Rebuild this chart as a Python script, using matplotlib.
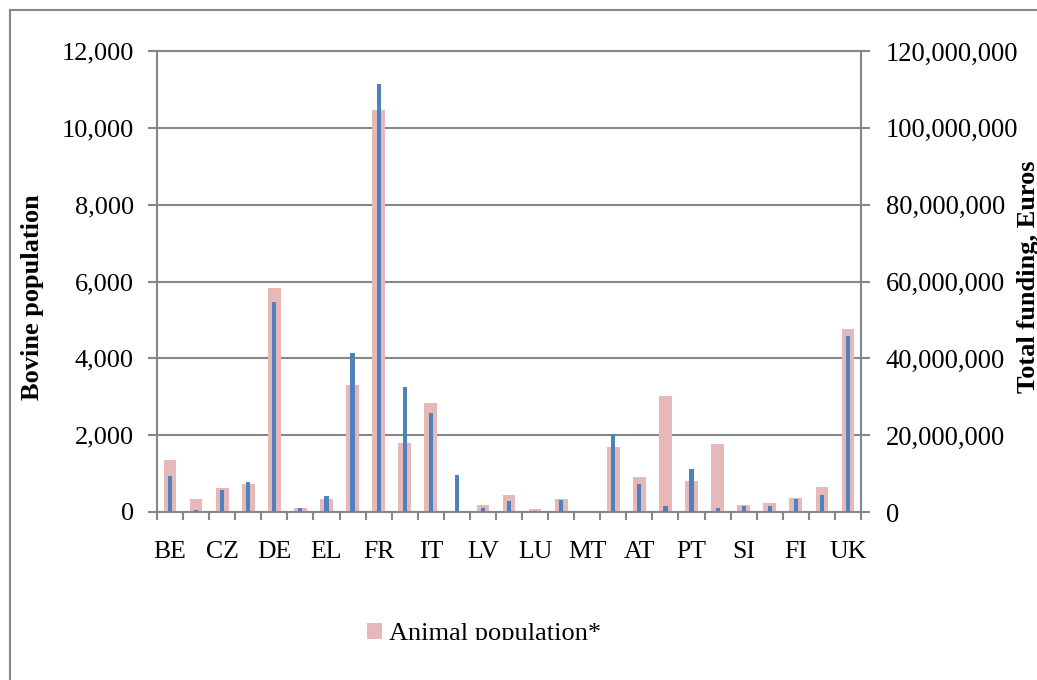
"""
Bovine population vs. total funding per member state.

Pink bars  : animal population (left axis, thousands)
Blue bars  : total funding in euros (right axis)
"""

import matplotlib.pyplot as plt
from matplotlib.patches import Rectangle
from matplotlib.ticker import FuncFormatter, MultipleLocator
from matplotlib.transforms import Bbox, TransformedBbox
import numpy as np

# ---------------------------------------------------------------------------
# Data
# ---------------------------------------------------------------------------
countries = [
    "BE", "BG", "CZ", "DK", "DE", "EE", "EL", "ES", "FR", "IE", "IT", "CY",
    "LV", "LT", "LU", "HU", "MT", "NL", "AT", "PL", "PT", "RO", "SI", "SK",
    "FI", "SE", "UK",
]
animal_population = [
    1350, 350, 630, 730, 5820, 100, 340, 3300, 10470, 1800, 2840, 0,
    190, 435, 70, 350, 0, 1700, 920, 3020, 810, 1770, 185, 235,
    355, 650, 4760,
]
total_funding = [
    9.3e6, 0.4e6, 5.7e6, 7.8e6, 54.7e6, 1.0e6, 4.2e6, 41.5e6, 111.5e6,
    32.5e6, 25.8e6, 9.7e6, 1.0e6, 2.8e6, 0.3e6, 3.1e6, 0.0, 20.3e6,
    7.3e6, 1.6e6, 11.1e6, 1.0e6, 1.5e6, 1.5e6, 3.4e6, 4.5e6, 45.8e6,
]
# only every other country code is printed under the axis
tick_labels = [c if i % 2 == 0 else "" for i, c in enumerate(countries)]

PINK = "#E6B9B8"
BLUE = "#4F81BD"
GREY = "#878787"

W, H = 1037, 680

plt.rcParams["font.family"] = ["Liberation Serif", "DejaVu Serif"]

# ---------------------------------------------------------------------------
# Figure
# ---------------------------------------------------------------------------
fig = plt.figure(figsize=(W / 100, H / 100), dpi=100)
ax = fig.add_axes([157 / W, 1 - 512 / H, (861 - 157) / W, (512 - 51) / H])

x = np.arange(len(countries))
pop_bars = ax.bar(x, animal_population, width=0.49, color=PINK, zorder=2)

ax.set_xlim(-0.5, len(countries) - 0.5)
ax.set_ylim(0, 12000)
ax.yaxis.set_major_locator(MultipleLocator(2000))
ax.yaxis.set_major_formatter(FuncFormatter(lambda v, _: f"{v:,.0f}"))
ax.set_axisbelow(True)
ax.grid(axis="y", color=GREY, linewidth=1.5)

ax.set_xticks(x)
ax.set_xticklabels(tick_labels)
ax.set_xticks(np.arange(-0.5, len(countries)), minor=True)
ax.tick_params(axis="x", which="major", length=0, pad=21, labelsize=18.5)
ax.tick_params(axis="x", which="minor", direction="out", length=6,
               width=1.5, color=GREY)
ax.tick_params(axis="y", direction="out", length=6.3, width=1.5,
               color=GREY, pad=10.5, labelsize=19)

for side in ("left", "bottom", "top"):
    ax.spines[side].set_color(GREY)
    ax.spines[side].set_linewidth(1.5)
ax.spines["right"].set_visible(False)

ax.set_ylabel("Bovine population", fontsize=19, fontweight="bold",
              va="center")
ax.yaxis.set_label_coords((33 - 157) / 704, (512 - 297) / 461)

# right axis: funding
ax2 = ax.twinx()
ax2.bar(x, total_funding, width=0.16, color=BLUE, zorder=3)
ax2.set_ylim(0, 120e6)
ax2.yaxis.set_major_locator(MultipleLocator(20e6))
ax2.yaxis.set_major_formatter(FuncFormatter(lambda v, _: f"{v:,.0f}"))
ax2.tick_params(axis="y", direction="out", length=6.3, width=1.5,
                color=GREY, pad=11.5, labelsize=19.2)
for side in ("left", "bottom", "top"):
    ax2.spines[side].set_visible(False)
ax2.spines["right"].set_color(GREY)
ax2.spines["right"].set_linewidth(1.5)

ax2.set_ylabel("Total funding, Euros", fontsize=19, fontweight="bold",
               va="center", rotation=90)
ax2.yaxis.set_label_coords((1028 - 157) / 704, (512 - 277) / 461)

# legend, cut off at the bottom as in the source
leg = fig.legend(
    handles=[pop_bars], labels=["Animal population*"],
    loc="center left", bbox_to_anchor=(367 / W, 1 - 634 / H),
    frameon=False, fontsize=19, handlelength=0.55, handleheight=0.55,
    handletextpad=0.28, borderpad=0, borderaxespad=0,
)
clip = TransformedBbox(Bbox([[0, 1 - 640 / H], [1, 1]]), fig.transFigure)
for t in leg.get_texts():
    t.set_clip_box(clip)

# outer chart frame (only top and left edges fall inside the image)
fig.add_artist(Rectangle((10 / W, -0.2), 1.5, 1.2 - 10 / H,
                         transform=fig.transFigure, fill=False,
                         edgecolor=GREY, linewidth=1.5))

fig.savefig("out.png", dpi=100)
